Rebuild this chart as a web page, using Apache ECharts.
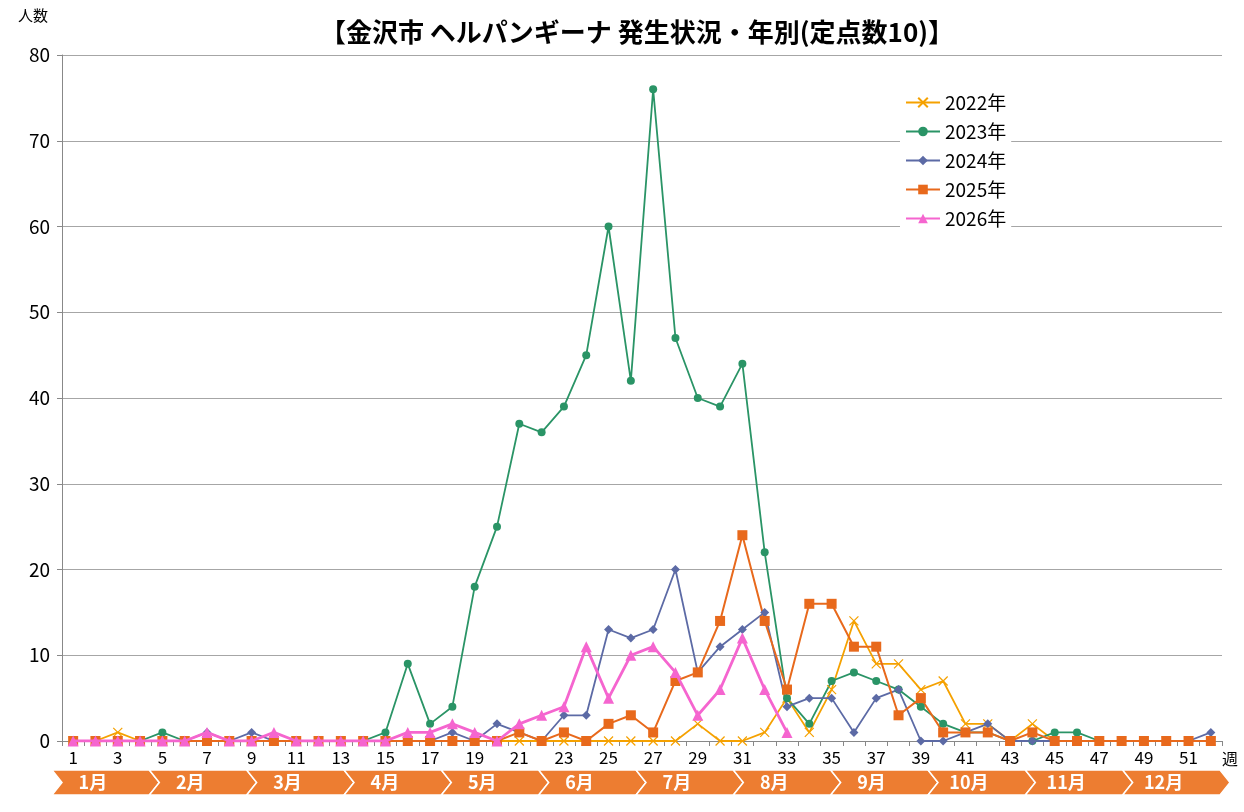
<!DOCTYPE html>
<html><head><meta charset="utf-8">
<script src="https://cdn.jsdelivr.net/npm/echarts@6/dist/echarts.min.js"></script>
<style>html,body{margin:0;background:#fff}#c{width:1244px;height:812px}</style>
</head><body><div id="c"></div>
<script>
const weeks = Array.from({ length: 52 }, (_, i) => String(i + 1));
const months = ['1月', '2月', '3月', '4月', '5月', '6月', '7月', '8月', '9月', '10月', '11月', '12月'];
const y2022 = [0,0,1,0,0,0,0,0,0,0,0,0,0,0,0,0,0,0,0,0,0,0,0,0,0,0,0,0,2,0,0,1,5,1,6,14,9,9,6,7,2,2,0,2,0,0,0,0,0,0,0,0];
const y2023 = [0,0,0,0,1,0,0,0,0,0,0,0,0,0,1,9,2,4,18,25,37,36,39,45,60,42,76,47,40,39,44,22,5,2,7,8,7,6,4,2,1,1,0,0,1,1,0,0,0,0,0,0];
const y2024 = [0,0,0,0,0,0,1,0,1,0,0,0,0,0,0,0,0,1,0,2,1,0,3,3,13,12,13,20,8,11,13,15,4,5,5,1,5,6,0,0,1,2,0,0,0,0,0,0,0,0,0,1];
const y2025 = [0,0,0,0,0,0,0,0,0,0,0,0,0,0,0,0,0,0,0,0,1,0,1,0,2,3,1,7,8,14,24,14,6,16,16,11,11,3,5,1,1,1,0,1,0,0,0,0,0,0,0,0];
const y2026 = [0,0,0,0,0,0,1,0,0,1,0,0,0,0,0,1,1,2,1,0,2,3,4,11,5,10,11,8,3,6,12,6,1];

const font = '"Noto Sans CJK JP", sans-serif';
const chart = echarts.init(document.getElementById('c'));

function line(name, data, color, symbol, size, width) {
  const cross = symbol === 'cross';
  return {
    name, type: 'line', data, xAxisIndex: 0, yAxisIndex: 0,
    symbol: cross ? 'path://M0,0L10,10M10,0L0,10' : symbol,
    symbolSize: size, showSymbol: true,
    lineStyle: { color, width },
    itemStyle: cross ? { color: 'none', borderColor: color, borderWidth: 1.2 } : { color },
    z: name === '2026年' ? 6 : 3
  };
}

chart.setOption({
  animation: false,
  title: {
    text: '【金沢市 ヘルパンギーナ 発生状況・年別(定点数10)】',
    left: 632, top: 14, textAlign: 'center',
    textStyle: { fontFamily: font, fontSize: 26, fontWeight: 'bold', color: '#000' }
  },
  legend: {
    orient: 'vertical', left: 900, top: 88, itemGap: 10, itemWidth: 34, itemHeight: 12,
    backgroundColor: '#fff',
    textStyle: { fontFamily: font, fontSize: 19, color: '#000' },
    data: ['2022年', '2023年', '2024年', '2025年', '2026年']
  },
  graphic: [
    { type: 'text', left: 18, top: 8, style: { text: '人数', font: '15px ' + font, fill: '#000' } },
    { type: 'text', left: 1222, top: 751, style: { text: '週', font: '16px ' + font, fill: '#000' } }
  ],
  grid: [
    { left: 62, right: 22, top: 55, bottom: 71 },
    { left: 52, right: 24, top: 770, bottom: 17 }
  ],
  xAxis: [
    {
      type: 'category', data: weeks, gridIndex: 0, boundaryGap: true,
      axisLine: { lineStyle: { color: '#888' } },
      axisTick: { show: true, interval: 0, alignWithLabel: false, lineStyle: { color: '#888' }, length: 5 },
      axisLabel: { interval: 1, color: '#000', fontSize: 17, fontFamily: font, margin: 8 }
    },
    { type: 'value', gridIndex: 1, min: 0, max: 12, show: false }
  ],
  yAxis: [
    {
      type: 'value', gridIndex: 0, min: 0, max: 80, interval: 10,
      axisLine: { show: true, lineStyle: { color: '#888' } },
      axisTick: { show: true, lineStyle: { color: '#888' } },
      splitLine: { lineStyle: { color: '#a6a6a6', width: 1.2 } },
      axisLabel: { color: '#000', fontSize: 19, fontFamily: font, margin: 12 }
    },
    { type: 'value', gridIndex: 1, min: 0, max: 1, show: false }
  ],
  series: [
    line('2022年', y2022, '#f5a100', 'cross', 9, 1.8),
    line('2023年', y2023, '#2a9466', 'circle', 8, 1.8),
    line('2024年', y2024, '#5c6aa5', 'diamond', 9, 1.8),
    line('2025年', y2025, '#e8691c', 'rect', 10, 2),
    line('2026年', y2026, '#f565cf', 'triangle', 11, 2.8),
    {
      type: 'custom', xAxisIndex: 1, yAxisIndex: 1, silent: true,
      data: months.map((m, i) => [i, m]),
      renderItem(params, api) {
        const i = api.value(0);
        const a = api.coord([i, 1]), b = api.coord([i + 1, 0]);
        const h = b[1] - a[1], n = 10;
        const pts = [[a[0], a[1]], [b[0], a[1]], [b[0] + n, a[1] + h / 2], [b[0], b[1]], [a[0], b[1]], [a[0] + n, a[1] + h / 2]];
        return {
          type: 'group',
          children: [
            { type: 'polygon', shape: { points: pts }, style: { fill: '#ed7d31', stroke: '#fff', lineWidth: 1.5 } },
            { type: 'text', style: { text: months[i], x: a[0] + (b[0] - a[0]) * 0.42, y: a[1] + h / 2, align: 'center', verticalAlign: 'middle', fill: '#fff', font: 'bold 18px ' + font } }
          ]
        };
      }
    }
  ]
});
</script></body></html>
